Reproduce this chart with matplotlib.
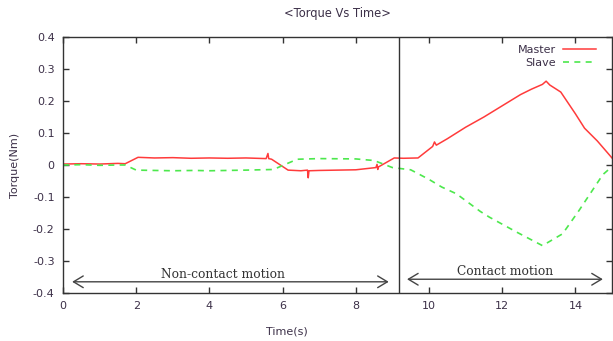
import matplotlib
matplotlib.use("Agg")
import matplotlib.pyplot as plt

# ---- data ----
master_t = [0, 0.5, 1.0, 1.5, 1.7, 2.05, 2.5, 3.0, 3.5, 4.0, 4.5, 5.0, 5.55, 5.6, 5.62, 5.7,
            6.15, 6.5, 6.68, 6.7, 6.72, 7.0, 7.5, 8.0, 8.55, 8.58, 8.6, 8.62, 9.05, 9.3, 9.7,
            10.1, 10.15, 10.2, 10.5, 11.0, 11.5, 12.0, 12.5, 12.8, 13.1, 13.2, 13.3, 13.6,
            14.0, 14.25, 14.6, 15.0]
master_v = [0.003, 0.004, 0.003, 0.005, 0.004, 0.024, 0.022, 0.023, 0.021, 0.022, 0.021, 0.022,
            0.020, 0.036, 0.020, 0.018, -0.016, -0.018, -0.016, -0.040, -0.018, -0.017, -0.016,
            -0.015, -0.008, 0.002, -0.014, -0.006, 0.022, 0.021, 0.022, 0.058, 0.072, 0.062,
            0.082, 0.118, 0.150, 0.185, 0.220, 0.237, 0.252, 0.262, 0.250, 0.228, 0.160, 0.115,
            0.075, 0.022]

slave_t = [0, 0.5, 1.0, 1.5, 1.7, 2.0, 3.0, 3.6, 4.0, 5.0, 5.75, 6.4, 7.0, 8.0, 8.5, 9.0, 9.5,
           10.0, 10.35, 10.75, 11.4, 11.65, 12.4, 13.1, 13.65, 14.1, 14.75, 15.0]
slave_v = [0.0, 0.001, -0.001, 0.0, 0.0, -0.016, -0.018, -0.017, -0.018, -0.016, -0.014, 0.018,
           0.020, 0.019, 0.014, -0.008, -0.015, -0.045, -0.069, -0.090, -0.145, -0.163, -0.210,
           -0.252, -0.215, -0.142, -0.030, -0.005]

x_ticks = [0, 2, 4, 6, 8, 10, 12, 14]
y_ticks = [-0.4, -0.3, -0.2, -0.1, 0, 0.1, 0.2, 0.3, 0.4]
y_tick_labels = ["-0.4", "-0.3", "-0.2", "-0.1", "0", "0.1", "0.2", "0.3", "0.4"]
boundary_t = 9.17
regions = [("Non-contact motion", 0.25, 8.9), ("Contact motion", 9.4, 14.75)]

txt = "#3c3048"

fig = plt.figure(figsize=(6.13, 3.41), dpi=100)
ax = fig.add_axes([63/613, 48/341, 549/613, 256/341])

ax.plot(master_t, master_v, color="#ff3b3b", lw=1.1, label="Master")
ax.plot(slave_t, slave_v, color="#4de84d", lw=1.2, dashes=(3.6, 3.2), label="Slave")
ax.axvline(boundary_t, color="#333333", lw=1.0)

ax.set_xlim(0, 15)
ax.set_ylim(-0.4, 0.4)
ax.set_xticks(x_ticks)
ax.set_xticklabels([str(v) for v in x_ticks])
ax.set_yticks(y_ticks)
ax.set_yticklabels(y_tick_labels)
ax.tick_params(direction="in", length=4, width=1, top=True, right=True,
               labelsize=8, labelcolor=txt, color="#333333", pad=6)
for s in ax.spines.values():
    s.set_color("#333333")
    s.set_linewidth(1.0)

# region arrows and labels
arrow_y = [-0.365, -0.357]
text_y = [-0.342, -0.333]
for (label, t0, t1), ay, ty in zip(regions, arrow_y, text_y):
    ax.annotate("", xy=(t0, ay), xytext=(t1, ay),
                arrowprops=dict(arrowstyle="<->,head_length=0.5,head_width=0.3",
                                color="#444444", lw=1.0,
                                mutation_scale=14, shrinkA=0, shrinkB=0))
    ax.text((t0 + t1) / 2 + (0.0 if label.startswith("C") else -0.2), ty, label,
            family="DejaVu Serif", fontsize=8.8, color="#333333",
            ha="center", va="center")

leg = ax.legend(loc="upper right", frameon=False, fontsize=8, markerfirst=False,
                handlelength=3.0, handletextpad=0.6, labelspacing=0.25,
                borderaxespad=0.3, bbox_to_anchor=(0.985, 1.0))
for t in leg.get_texts():
    t.set_color(txt)

fig.text(337/613, 1 - 14/341, "<Torque Vs Time>", ha="center", va="center",
         fontsize=8.3, color=txt)
fig.text(287/613, 1 - 332/341, "Time(s)", ha="center", va="center",
         fontsize=8, color=txt)
fig.text(15/613, 1 - 165/341, "Torque(Nm)", ha="center", va="center",
         rotation=90, fontsize=8, color=txt)

fig.savefig("out.png", dpi=100)
